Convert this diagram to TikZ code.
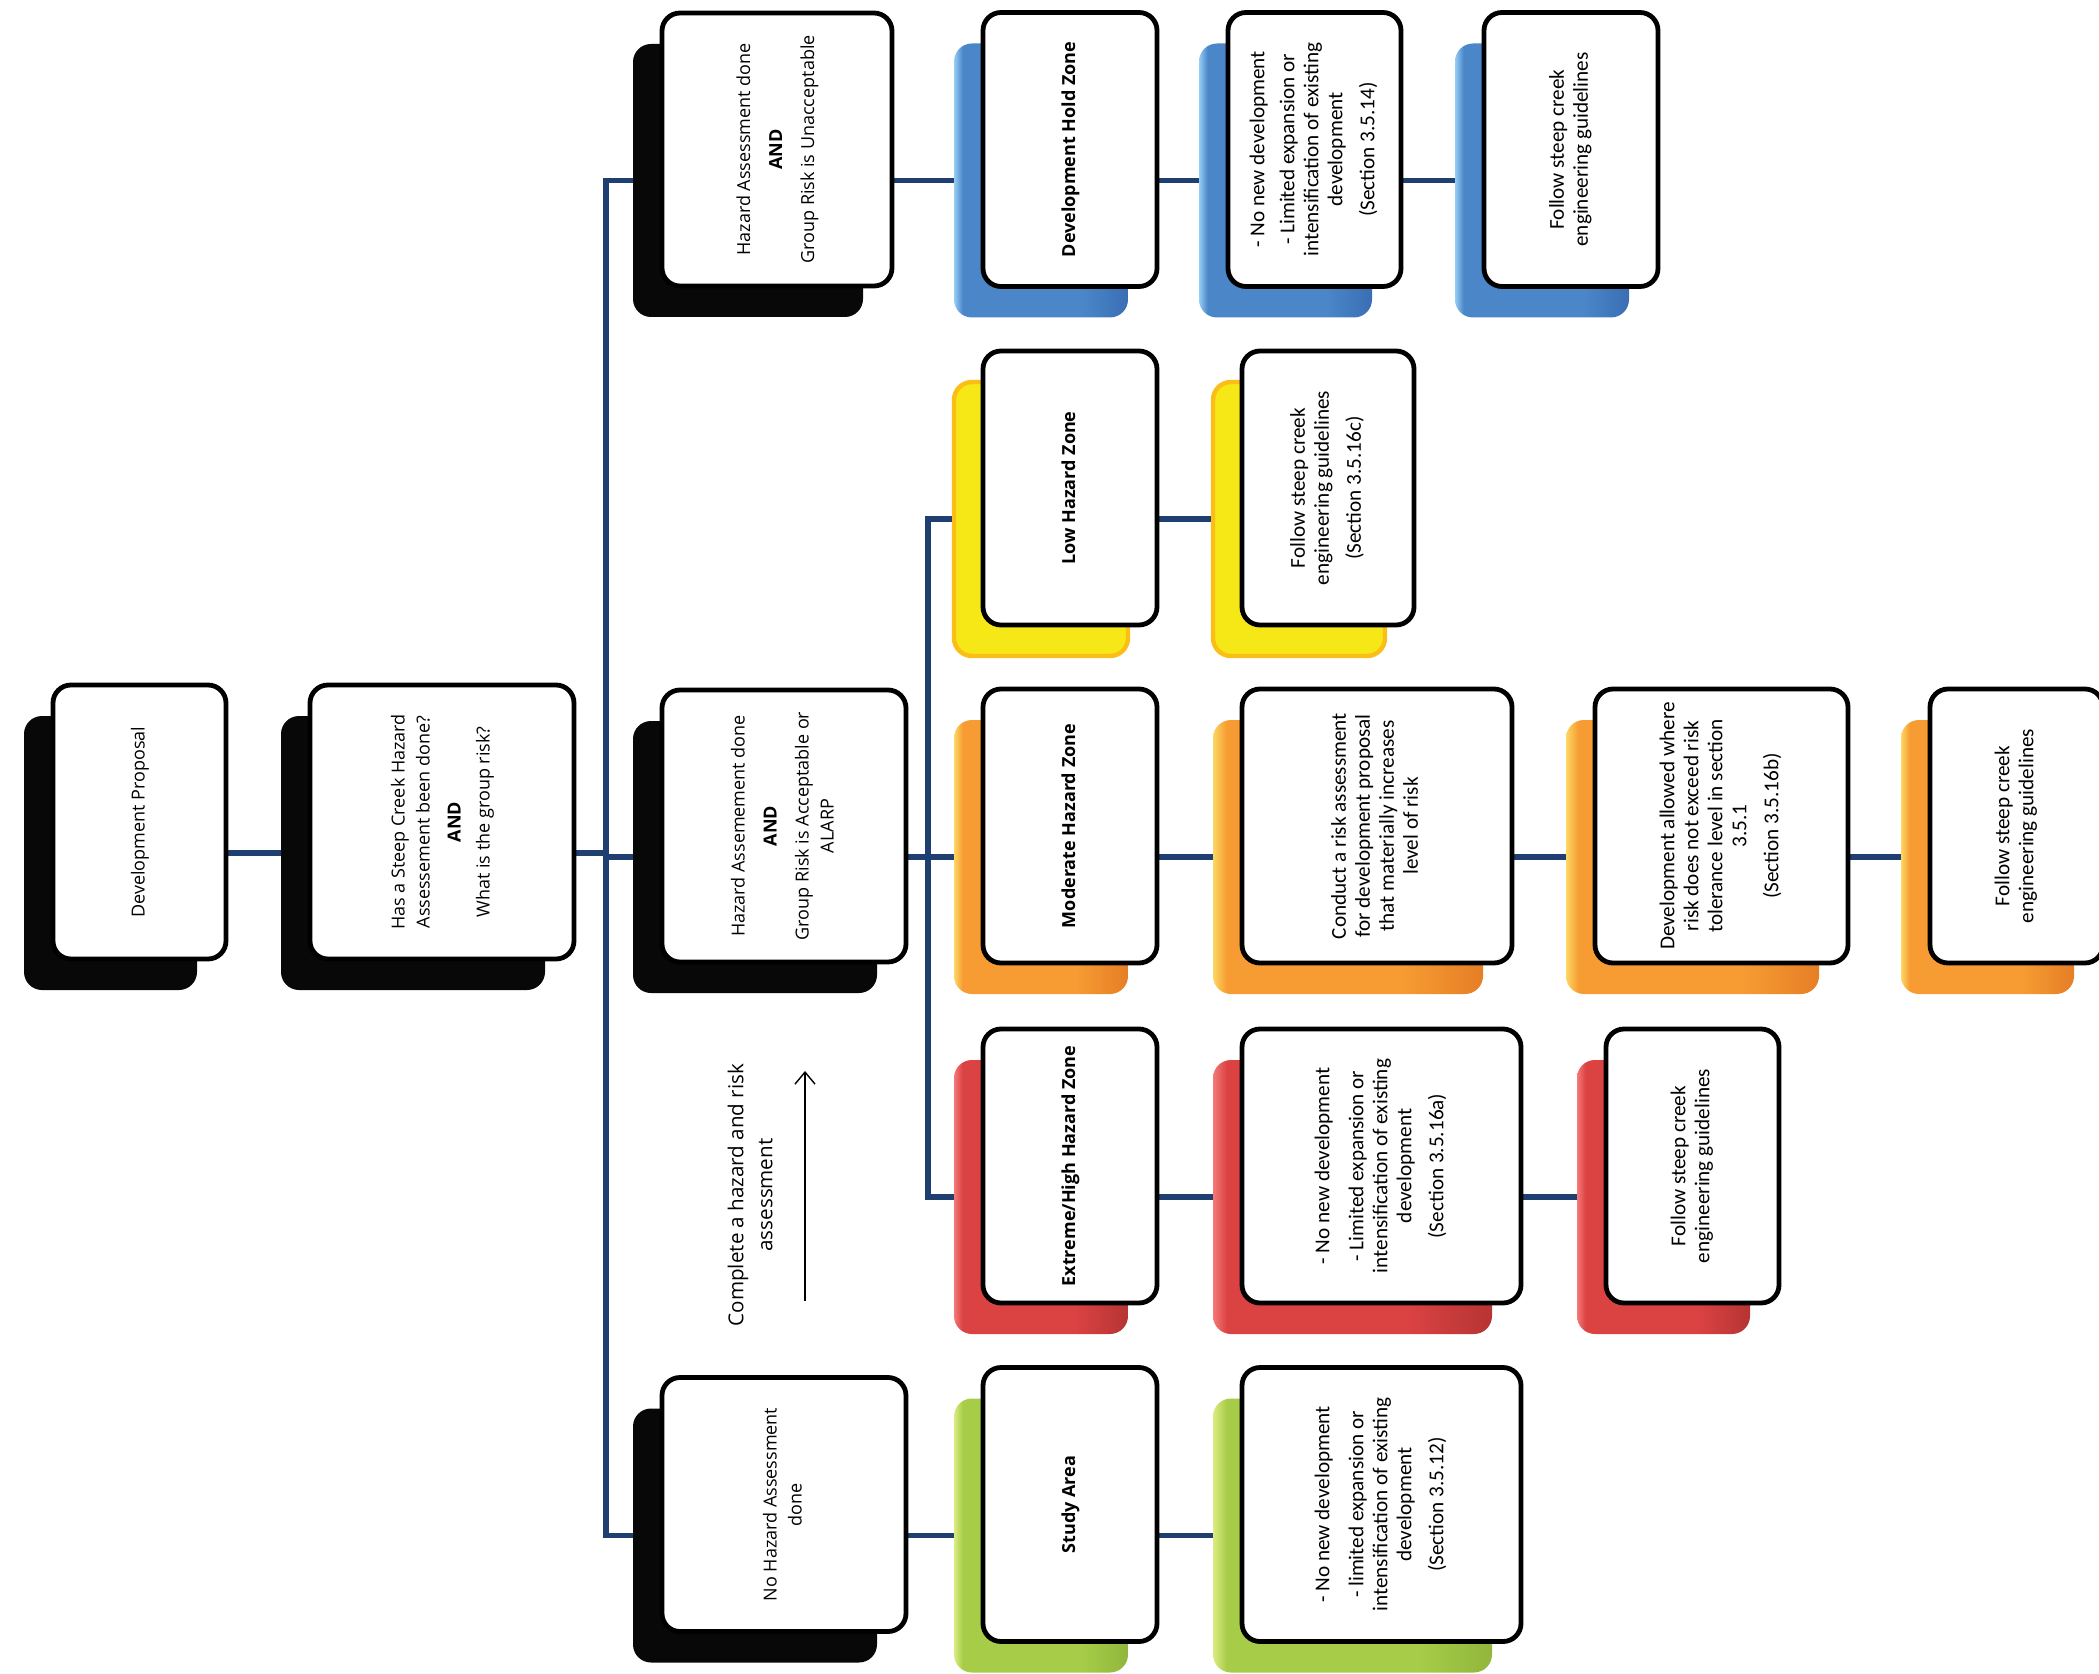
\documentclass[tikz,border=0pt]{standalone}
\usepackage{fontspec}
\setmainfont{Open Sans}
\newfontfamily\calibri{Carlito}
\usetikzlibrary{arrows.meta}

\definecolor{navy}{RGB}{31,63,112}
\definecolor{bluemd}{RGB}{74,134,200}
\definecolor{bluelt}{RGB}{150,205,245}
\definecolor{bluedk}{RGB}{58,110,180}
\definecolor{yellowfill}{RGB}{245,232,22}
\definecolor{yellowrim}{RGB}{250,190,22}
\definecolor{orangemd}{RGB}{246,156,50}
\definecolor{orangelt}{RGB}{252,215,100}
\definecolor{orangedk}{RGB}{230,126,38}
\definecolor{redmd}{RGB}{219,66,66}
\definecolor{redlt}{RGB}{245,120,120}
\definecolor{reddk}{RGB}{182,52,52}
\definecolor{greenmd}{RGB}{166,204,72}
\definecolor{greenlt}{RGB}{220,236,130}
\definecolor{greendk}{RGB}{145,182,60}

\pgfdeclarehorizontalshading{bluecard}{100bp}{color(0bp)=(bluelt); color(25bp)=(bluelt);
	color(27.5bp)=(bluemd); color(62bp)=(bluemd); color(75bp)=(bluedk); color(100bp)=(bluedk)}
\pgfdeclarehorizontalshading{orangecard}{100bp}{color(0bp)=(orangelt); color(25bp)=(orangelt);
	color(27.5bp)=(orangemd); color(60bp)=(orangemd); color(75bp)=(orangedk); color(100bp)=(orangedk)}
\pgfdeclarehorizontalshading{redcard}{100bp}{color(0bp)=(redlt); color(25bp)=(redlt);
	color(27.5bp)=(redmd); color(60bp)=(redmd); color(75bp)=(reddk); color(100bp)=(reddk)}
\pgfdeclarehorizontalshading{greencard}{100bp}{color(0bp)=(greenlt); color(25bp)=(greenlt);
	color(27.5bp)=(greenmd); color(62bp)=(greenmd); color(75bp)=(greendk); color(100bp)=(greendk)}

\newcommand{\vtext}[1]{\rotatebox{90}{\begin{tabular}{@{}c@{}}#1\end{tabular}}}

\begin{document}
\begin{tikzpicture}[x = .5pt, y = -.5pt,
	card/.style = {draw=black, line width=2.4pt, fill=white, rounded corners=9pt, inner sep=0pt,
		minimum width=87pt, minimum height=137pt, font=\fontsize{9}{12.5}\selectfont},
	detail/.style = {card, font=\calibri\fontsize{10.6}{12}\selectfont},
	zone/.style = {card, font=\fontsize{9}{12.5}\selectfont\bfseries},
	backing/.style = {rounded corners=9pt, inner sep=0pt, minimum width=87pt, minimum height=137pt},
	blackback/.style = {backing, fill=black!97},
	blueback/.style = {backing, shade, shading=bluecard},
	yellowback/.style = {backing, fill=yellowfill, draw=yellowrim, line width=2.2pt},
	orangeback/.style = {backing, shade, shading=orangecard},
	redback/.style = {backing, shade, shading=redcard},
	greenback/.style = {backing, shade, shading=greencard},
	link/.style = {draw=navy, line width=2.6pt}]

	\useasboundingbox (0,0) rectangle (2099,1674);

	% backing cards
	\node[blackback, minimum width=86.5pt] (sA) at (110.5,853) {};
	\node[blackback, minimum width=132pt] (sB) at (413,853) {};
	\node[blackback, minimum width=115pt, minimum height=136.5pt] (sC1) at (748,180.5) {};
	\node[blackback, minimum width=122pt, minimum height=136pt] (sC2) at (755,857) {};
	\node[blackback, minimum width=122pt, minimum height=127pt] (sC3) at (755,1535.5) {};
	\node[blueback] (sD1) at (1041,180.5) {};
	\node[yellowback] (sD2) at (1041,519) {};
	\node[orangeback] (sD3) at (1041,857) {};
	\node[redback] (sD4) at (1041,1197) {};
	\node[greenback] (sD5) at (1041,1535.5) {};
	\node[blueback, minimum width=86.5pt] (sE1) at (1285.5,180.5) {};
	\node[yellowback, minimum width=86pt] (sE2) at (1299,519) {};
	\node[orangeback, minimum width=135pt] (sE3) at (1348,857) {};
	\node[redback, minimum width=139.5pt] (sE4) at (1352.5,1197) {};
	\node[greenback, minimum width=139.5pt] (sE5) at (1352.5,1535.5) {};
	\node[blueback] (sF1) at (1542,180.5) {};
	\node[orangeback, minimum width=126.5pt] (sF3) at (1692.5,857) {};
	\node[redback, minimum width=86.5pt] (sF4) at (1663.5,1197) {};
	\node[orangeback, minimum width=86.5pt] (sG3) at (1987.5,857) {};

	% connectors
	\coordinate (j1) at (606,853);
	\coordinate (j2) at (928,857);
	\draw[link] (sA.east) -- (sB.west);
	\draw[link] (sB.east) -- (j1);
	\draw[link] (sC1.west) -| (j1) |- (sC3.west);
	\draw[link] (j1 |- sC2.west) -- (sC2.west);
	\draw[link] (sC2.east) -- (j2);
	\draw[link] (sD2.west) -| (j2) |- (sD4.west);
	\draw[link] (j2) -- (sD3.west);
	\draw[link] (sC1.east) -- (sD1.west);
	\draw[link] (sD1.east) -- (sE1.west);
	\draw[link] (sE1.east) -- (sF1.west);
	\draw[link] (sD2.east) -- (sE2.west);
	\draw[link] (sD3.east) -- (sE3.west);
	\draw[link] (sE3.east) -- (sF3.west);
	\draw[link] (sF3.east) -- (sG3.west);
	\draw[link] (sD4.east) -- (sE4.west);
	\draw[link] (sE4.east) -- (sF4.west);
	\draw[link] (sC3.east) -- (sD5.west);
	\draw[link] (sD5.east) -- (sE5.west);

	% white cards
	\node[card, minimum width=86.5pt] (A) at (139.5,822) {\vtext{Development Proposal}};
	\node[card, minimum width=132pt] (B) at (442,822)
		{\vtext{Has a Steep Creek Hazard\\Assessement been done?\\[3pt]\textbf{AND}\\[2pt]What is the group risk?}};
	\node[card, minimum width=115pt, minimum height=136.5pt] (C1) at (777,149.5)
		{\vtext{Hazard Assessment done\\[3.5pt]\textbf{AND}\\[3.5pt]Group Risk is Unacceptable}};
	\node[card, minimum width=122pt, minimum height=136pt] (C2) at (784,826)
		{\vtext{Hazard Assemement done\\[3.5pt]\textbf{AND}\\[3.5pt]Group Risk is Acceptable or\\ALARP}};
	\node[card, minimum width=122pt, minimum height=127pt] (C3) at (784,1504.5)
		{\vtext{No Hazard Assessment\\done}};

	\node[zone] (D1) at (1070,149.5) {\vtext{Development Hold Zone}};
	\node[zone] (D2) at (1070,488) {\vtext{Low Hazard Zone}};
	\node[zone] (D3) at (1070,826) {\vtext{Moderate Hazard Zone}};
	\node[zone] (D4) at (1070,1166) {\vtext{Extreme/High Hazard Zone}};
	\node[zone] (D5) at (1070,1504.5) {\vtext{Study Area}};

	\node[detail, minimum width=86.5pt] (E1) at (1314.5,149.5)
		{\vtext{- No new development\\[3pt]- Limited expansion or\\intensification of existing\\development\\[4pt](Section 3.5.14)}};
	\node[detail, minimum width=86pt] (E2) at (1328,488)
		{\vtext{Follow steep creek\\engineering guidelines\\[4pt](Section 3.5.16c)}};
	\node[detail, minimum width=135pt] (E3) at (1377,826)
		{\vtext{Conduct a risk assessment\\for development proposal\\that materially increases\\level of risk}};
	\node[detail, minimum width=139.5pt] (E4) at (1381.5,1166)
		{\vtext{- No new development\\[5pt]- Limited expansion or\\intensification of existing\\development\\[4pt](Section 3.5.16a)}};
	\node[detail, minimum width=139.5pt] (E5) at (1381.5,1504.5)
		{\vtext{- No new development\\[5pt]- limited expansion or\\intensification of existing\\development\\[4pt](Section 3.5.12)}};

	\node[detail] (F1) at (1571,149.5) {\vtext{Follow steep creek\\engineering guidelines}};
	\node[detail, minimum width=126.5pt] (F3) at (1721.5,826)
		{\vtext{Development allowed where\\risk does not exceed risk\\tolerance level in section\\3.5.1\\[4pt](Section 3.5.16b)}};
	\node[detail, minimum width=86.5pt] (F4) at (1692.5,1166) {\vtext{Follow steep creek\\engineering guidelines}};
	\node[detail, minimum width=86.5pt] (G3) at (2016.5,826) {\vtext{Follow steep creek\\engineering guidelines}};

	% hint arrow
	\node[font=\fontsize{10.3}{14.5}\selectfont] (hint) at (752,1195) {\vtext{Complete a hazard and risk\\assessment}};
	\coordinate (arrtail) at (805,1301);
	\coordinate (arrtip) at (805,1071);
	\draw[-{Straight Barb[length=6pt,width=10pt]}, line width=.7pt] (arrtail) -- (arrtip);

\end{tikzpicture}
\end{document}
